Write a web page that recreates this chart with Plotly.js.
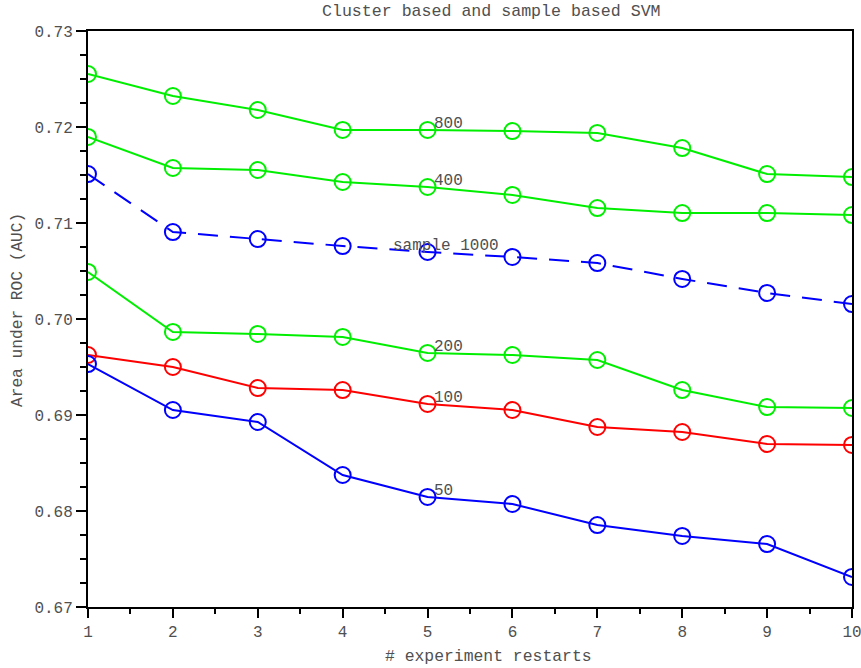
<!DOCTYPE html>
<html>
<head>
<meta charset="utf-8">
<script src="https://cdn.plot.ly/plotly-3.0.1.min.js"></script>
<style>html,body{margin:0;padding:0;background:#fff;}#chart{width:861px;height:668px;}</style>
</head>
<body>
<div id="chart"></div>
<script>
const restarts = [1, 2, 3, 4, 5, 6, 7, 8, 9, 10];
const auc800 = [0.72552, 0.72323, 0.72177, 0.71969, 0.71969, 0.71958, 0.71938, 0.71781, 0.71510, 0.71479];
const auc400 = [0.71896, 0.71573, 0.71552, 0.71427, 0.71375, 0.71292, 0.71156, 0.71104, 0.71104, 0.71083];
const aucSample1000 = [0.71510, 0.70906, 0.70833, 0.70760, 0.70698, 0.70646, 0.70583, 0.70417, 0.70271, 0.70156];
const auc200 = [0.70490, 0.69865, 0.69844, 0.69813, 0.69646, 0.69625, 0.69573, 0.69260, 0.69083, 0.69073];
const auc100 = [0.69625, 0.69500, 0.69281, 0.69260, 0.69115, 0.69052, 0.68875, 0.68823, 0.68698, 0.68688];
const auc50 = [0.69531, 0.69052, 0.68927, 0.68375, 0.68146, 0.68073, 0.67854, 0.67740, 0.67656, 0.67313];
const seriesLabels = ["800", "400", "sample 1000", "200", "100", "50"];
const yTicks = [0.67, 0.68, 0.69, 0.70, 0.71, 0.72, 0.73];
const yTickText = ["0.67", "0.68", "0.69", "0.70", "0.71", "0.72", "0.73"];

const GREEN = "#00ee00", BLUE = "#0000ff", RED = "#ff0000";
const FONT = "Liberation Mono, Courier New, monospace";
const GREY = "#505050";
const series = [
  {y: auc800, color: GREEN, dash: "solid"},
  {y: auc400, color: GREEN, dash: "solid"},
  {y: aucSample1000, color: BLUE, dash: "20px,12px"},
  {y: auc200, color: GREEN, dash: "solid"},
  {y: auc100, color: RED, dash: "solid"},
  {y: auc50, color: BLUE, dash: "solid"}
];
const traces = series.map((s, i) => ({
  x: restarts, y: s.y, type: "scatter", mode: "lines+markers", name: seriesLabels[i],
  line: {color: s.color, width: 2, dash: s.dash},
  marker: {symbol: "circle-open", size: 16, color: s.color, line: {width: 2, color: s.color}},
  cliponaxis: true, showlegend: false
}));

const labelX = 5;
const annotations = series.map((s, i) => ({
  x: labelX, y: s.y[labelX - 1], xref: "x", yref: "y",
  text: seriesLabels[i], showarrow: false,
  xanchor: "left", yanchor: "bottom",
  xshift: seriesLabels[i] === "sample 1000" ? -37 : 4, yshift: -5,
  font: {family: FONT, size: 16, color: GREY}
}));
annotations.push(
  {text: "Cluster based and sample based SVM", xref: "paper", yref: "paper", x: 0.5275, y: 1.033,
   xanchor: "center", yanchor: "middle", showarrow: false, font: {family: FONT, size: 16.6, color: GREY}},
  {text: "# experiment restarts", xref: "paper", yref: "paper", x: 0.5236, y: -0.0868,
   xanchor: "center", yanchor: "middle", showarrow: false, font: {family: FONT, size: 16.4, color: GREY}},
  {text: "Area under ROC (AUC)", xref: "paper", yref: "paper", x: -0.0916, y: 0.5156, textangle: -90,
   xanchor: "center", yanchor: "middle", showarrow: false, font: {family: FONT, size: 16.2, color: GREY}}
);

const layout = {
  width: 861, height: 668,
  margin: {l: 88, r: 9, t: 31, b: 61},
  paper_bgcolor: "#fff", plot_bgcolor: "#fff",
  font: {family: FONT, size: 16, color: GREY},
  xaxis: {
    range: [1, 10], tickmode: "array", tickvals: restarts, ticktext: restarts.map(String),
    ticks: "outside", ticklen: 9, tickwidth: 2, tickcolor: "#000",
    minor: {dtick: 0.5, tick0: 1, ticks: "outside", ticklen: 5, tickwidth: 2, tickcolor: "#000"},
    showline: true, linecolor: "#000", linewidth: 2, mirror: true,
    showgrid: false, zeroline: false, ticklabeloverflow: "allow",
    tickfont: {family: FONT, size: 16, color: GREY}
  },
  yaxis: {
    range: [0.67, 0.73], tickmode: "array", tickvals: yTicks, ticktext: yTickText,
    ticks: "outside", ticklen: 10, tickwidth: 2, tickcolor: "#000",
    minor: {dtick: 0.0025, tick0: 0.67, ticks: "outside", ticklen: 6, tickwidth: 2, tickcolor: "#000"},
    showline: true, linecolor: "#000", linewidth: 2, mirror: true,
    showgrid: false, zeroline: false, ticklabeloverflow: "allow",
    tickfont: {family: FONT, size: 16, color: GREY}
  },
  annotations: annotations
};
Plotly.newPlot("chart", traces, layout, {displayModeBar: false, staticPlot: true});
</script>
</body>
</html>
